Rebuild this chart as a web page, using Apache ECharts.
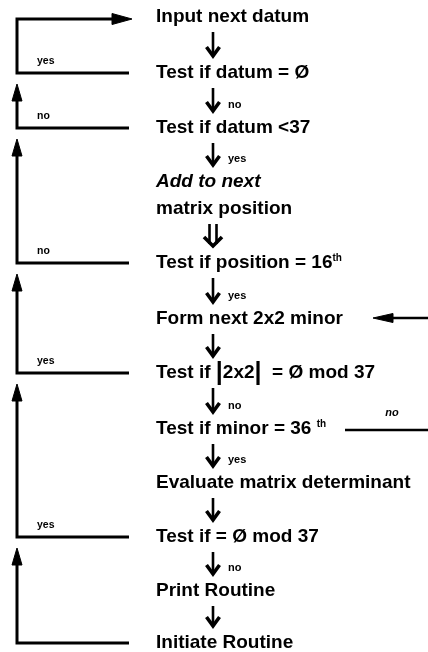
<!DOCTYPE html>
<html><head><meta charset="utf-8">
<script src="https://cdn.jsdelivr.net/npm/echarts@6/dist/echarts.min.js"></script>
<style>html,body{margin:0;padding:0;background:#fff}#c{width:428px;height:652px}</style>
</head><body><div id="c"></div>
<script>
// ---- diagram content ----
const steps = [
  'Input next datum',
  'Test if datum = Ø',
  'Test if datum <37',
  '{it|Add to next}',
  'matrix position',
  'Test if position = 16{sup|th}',
  'Form next 2x2 minor',
  'Test if {bar||}2x2{bar||}  = Ø mod 37',
  'Test if minor = 36 {sup|th}',
  'Evaluate matrix determinant',
  'Test if = Ø mod 37',
  'Print Routine',
  'Initiate Routine'
];
const stepRow = [17, 73, 128, 182, 209, 263, 319, 373, 429, 483, 537, 591, 643];

// downward flow arrows
const flowFrom   = [0, 1, 2, 4, 5, 6, 7, 8, 9, 10, 11];
const flowTo     = [1, 2, 3, 5, 6, 7, 8, 9, 10, 11, 12];
const flowLabel  = ['', 'no', 'yes', '', 'yes', '', 'no', 'yes', '', 'no', ''];
const flowDouble = [false, false, false, true, false, false, false, false, false, false, false];

// return loops on the left (all back to "Input next datum")
const loopFrom  = [1, 2, 5, 7, 10, 12];
const loopLabel = ['yes', 'no', 'no', 'yes', 'yes', ''];

// return loop on the right
const sideFrom = 8, sideTo = 6, sideLabel = 'no';

// ---- layout ----
const W = 428, H = 652;
const TEXT_X = 156, FLOW_X = 213, LOOP_X = 17, LOOP_END_X = 129;
const ink = '#000';
const FAM = '"Liberation Sans", Arial, sans-serif';
const FS = 19;

const chart = echarts.init(document.getElementById('c'));

function tri(points) {
  return {type: 'polygon', shape: {points}, style: {fill: ink, stroke: ink, lineWidth: 1}};
}

const option = {
  animation: false,
  backgroundColor: '#fff',
  grid: {left: 0, right: 0, top: 0, bottom: 0},
  xAxis: {type: 'value', min: 0, max: W, show: false},
  yAxis: {type: 'value', min: 0, max: H, inverse: true, show: false},
  series: [
    {
      type: 'custom', name: 'steps',
      data: steps.map((s, i) => [TEXT_X, stepRow[i]]),
      renderItem(params, api) {
        const p = api.coord([api.value(0), api.value(1)]);
        return {
          type: 'text', x: p[0], y: p[1],
          style: {
            text: steps[params.dataIndex], fill: ink,
            fontFamily: FAM, fontWeight: 'bold', fontSize: FS,
            align: 'left', verticalAlign: 'middle',
            rich: {
              sup: {fontFamily: FAM, fontWeight: 'bold', fontSize: 10, fill: ink, verticalAlign: 'top', lineHeight: 12},
              it: {fontFamily: FAM, fontWeight: 'bold', fontStyle: 'italic', fontSize: FS, fill: ink},
              bar: {fontFamily: FAM, fontWeight: 'bold', fontSize: 25, fill: ink}
            }
          }
        };
      }
    },
    {
      type: 'custom', name: 'flow',
      data: flowFrom.map((f, i) => [FLOW_X, stepRow[f], stepRow[flowTo[i]]]),
      renderItem(params, api) {
        const i = params.dataIndex;
        const a = api.coord([api.value(0), api.value(1) + 15]);
        const b = api.coord([api.value(0), api.value(2) - 17]);
        const children = [];
        const xs = flowDouble[i] ? [a[0] - 3.5, a[0] + 3.5] : [a[0]];
        xs.forEach(x => children.push({type: 'line', shape: {x1: x, y1: a[1], x2: x, y2: b[1] - 2}, style: {stroke: ink, lineWidth: 2.6}}));
        const hw = flowDouble[i] ? 9 : 6.5;
        children.push({type: 'polyline', shape: {points: [[a[0] - hw, b[1] - 9], [a[0], b[1]], [a[0] + hw, b[1] - 9]]},
          style: {stroke: ink, lineWidth: 3.6, fill: null, lineJoin: 'miter'}});
        if (flowLabel[i]) {
          children.push({type: 'text', x: a[0] + 15, y: b[1] - 6,
            style: {text: flowLabel[i], fill: ink, fontFamily: FAM, fontWeight: 'bold', fontSize: 11, verticalAlign: 'middle'}});
        }
        return {type: 'group', children};
      }
    },
    {
      type: 'custom', name: 'loops',
      data: loopFrom.map((f, k) => [LOOP_X, stepRow[f], k === 0 ? stepRow[0] : stepRow[loopFrom[k - 1]]]),
      renderItem(params, api) {
        const k = params.dataIndex;
        const y = api.value(1), prev = api.value(2);
        const p = api.coord([LOOP_X, y]);
        const e = api.coord([LOOP_END_X, y]);
        const children = [];
        if (k === 0) {
          const t = api.coord([LOOP_X, prev + 2]);
          const tip = api.coord([132, prev + 2]);
          children.push({type: 'polyline', shape: {points: [[e[0], p[1]], [p[0], p[1]], [t[0], t[1]], [tip[0] - 16, t[1]]]},
            style: {stroke: ink, lineWidth: 3, fill: null, lineJoin: 'miter'}});
          children.push(tri([[tip[0], tip[1]], [tip[0] - 20, tip[1] - 5.5], [tip[0] - 20, tip[1] + 5.5]]));
        } else {
          const tip = api.coord([LOOP_X, prev + 11]);
          children.push({type: 'polyline', shape: {points: [[e[0], p[1]], [p[0], p[1]], [p[0], tip[1] + 14]]},
            style: {stroke: ink, lineWidth: 3, fill: null, lineJoin: 'miter'}});
          children.push(tri([[tip[0], tip[1]], [tip[0] - 5, tip[1] + 17], [tip[0] + 5, tip[1] + 17]]));
        }
        if (loopLabel[k]) {
          children.push({type: 'text', x: p[0] + 20, y: p[1] - 12,
            style: {text: loopLabel[k], fill: ink, fontFamily: FAM, fontWeight: 'bold', fontSize: 10.5, verticalAlign: 'middle'}});
        }
        return {type: 'group', children};
      }
    },
    {
      type: 'custom', name: 'side',
      data: [[345, stepRow[sideFrom] + 1, stepRow[sideTo] - 1]],
      renderItem(params, api) {
        const a = api.coord([api.value(0), api.value(1)]);
        const r = api.coord([W + 5, api.value(1)]);
        const t = api.coord([373, api.value(2)]);
        const s = api.coord([W + 5, api.value(2)]);
        return {type: 'group', children: [
          {type: 'line', shape: {x1: a[0], y1: a[1], x2: r[0], y2: r[1]}, style: {stroke: ink, lineWidth: 2.5}},
          {type: 'text', x: a[0] + 47, y: a[1] - 17,
            style: {text: sideLabel, fill: ink, fontFamily: FAM, fontWeight: 'bold', fontStyle: 'italic', fontSize: 11, align: 'center', verticalAlign: 'middle'}},
          {type: 'line', shape: {x1: t[0] + 16, y1: t[1], x2: s[0], y2: s[1]}, style: {stroke: ink, lineWidth: 2.5}},
          tri([[t[0], t[1]], [t[0] + 20, t[1] - 4.5], [t[0] + 20, t[1] + 4.5]])
        ]};
      }
    }
  ]
};
chart.setOption(option);
</script>
</body></html>
